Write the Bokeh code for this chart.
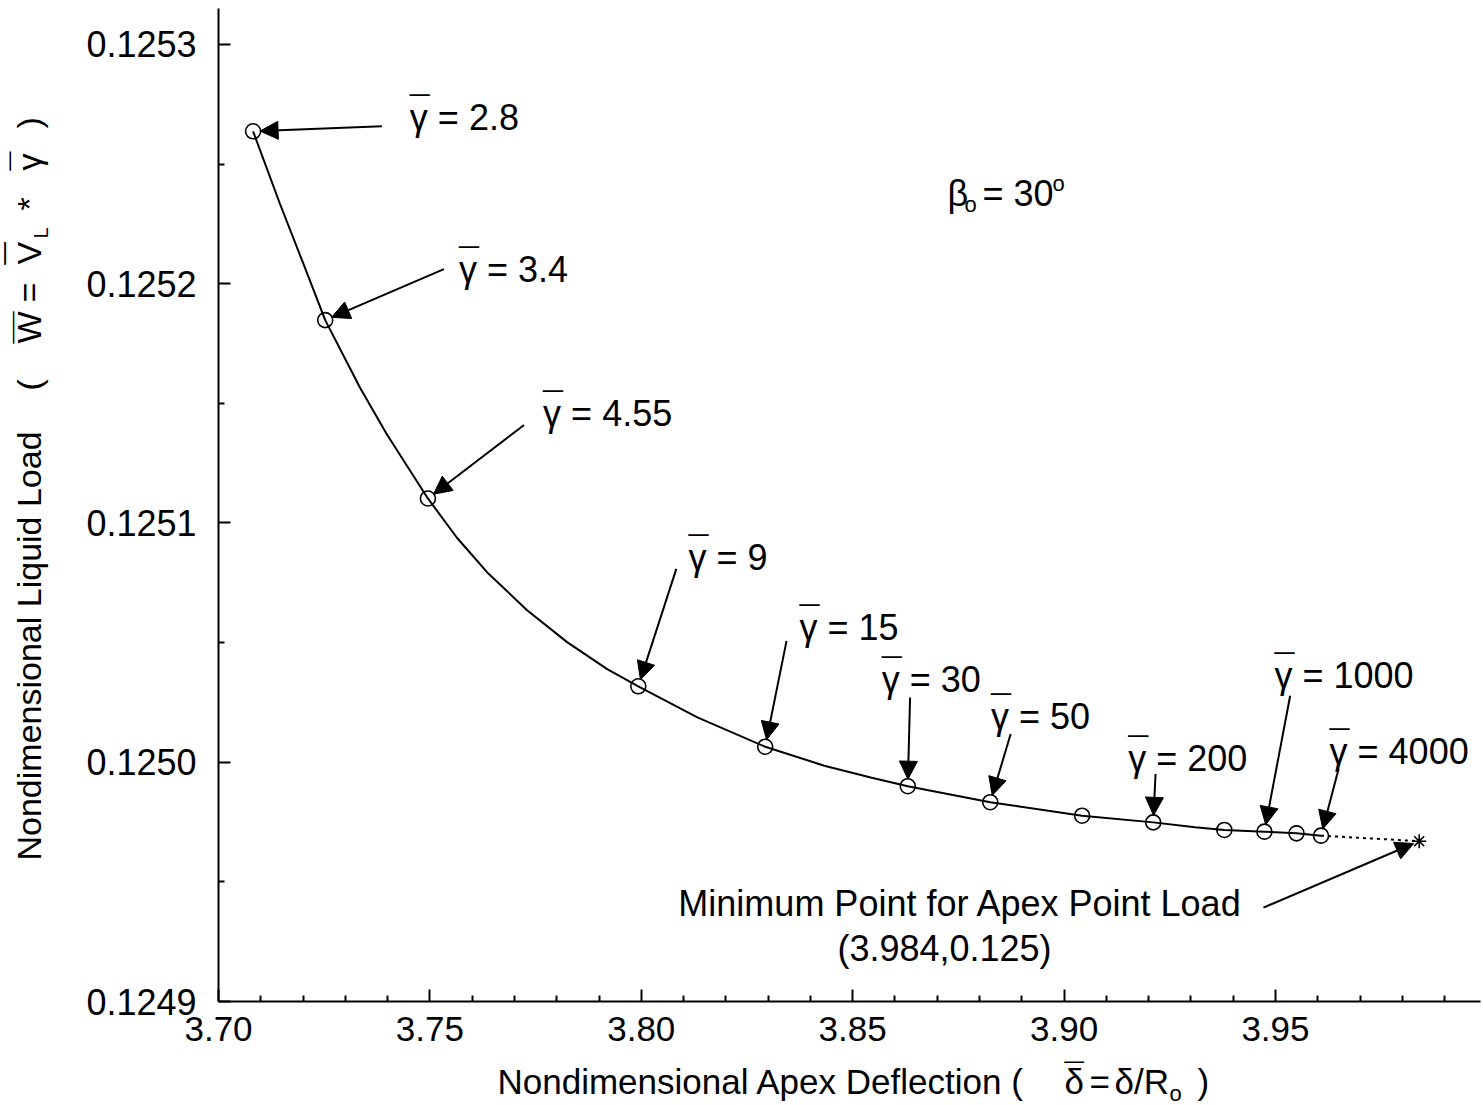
import math
from bokeh.plotting import figure
from bokeh.models import Range1d, FixedTicker, PrintfTickFormatter, Arrow, NormalHead, Label
from bokeh.embed import file_html
from bokeh.resources import INLINE

FONT = "Liberation Sans"
MACRON = "\u00af"

# Computed solutions (apex deflection vs. liquid load) for increasing gamma
delta = [3.70818, 3.72524, 3.74953, 3.79929, 3.82931, 3.86303, 3.88254,
         3.90427, 3.92109, 3.93791, 3.94739, 3.95498, 3.96078]
load = [0.12526367, 0.12518476, 0.12511023, 0.12503173, 0.12500647, 0.12498998,
        0.12498330, 0.12497766, 0.12497486, 0.12497169, 0.12497098, 0.12497027,
        0.12496931]

# Traced solution curve through the computed points
curve_delta = [3.70818, 3.71453, 3.72007, 3.72524, 3.73348, 3.73981, 3.74953,
               3.75640, 3.76351, 3.77299, 3.78246, 3.79194, 3.79929, 3.81327,
               3.82931, 3.84329, 3.85427, 3.86303, 3.88254, 3.90427, 3.92109,
               3.93097, 3.93791, 3.94739, 3.95498, 3.96078]
curve_load = [0.12526367, 0.12523340, 0.12520835, 0.12518476, 0.12515649,
              0.12513704, 0.12511023, 0.12509381, 0.12507943, 0.12506355,
              0.12505018, 0.12503890, 0.12503173, 0.12501871, 0.12500647,
              0.12499854, 0.12499365, 0.12498998, 0.12498330, 0.12497766,
              0.12497486, 0.12497278, 0.12497169, 0.12497098, 0.12497027,
              0.12496931]

# Limit: apex point load minimum
min_delta = 3.984
min_load = 0.124967

# Gamma annotations: value, index of the point it refers to, text anchor, arrow tail
gamma_text = ["2.8", "3.4", "4.55", "9", "15", "30", "50", "200", "1000", "4000"]
gamma_target = [0, 1, 2, 3, 4, 5, 6, 8, 10, 12]
gamma_label_x = [3.74526, 3.75687, 3.77678, 3.81114, 3.83744, 3.85687, 3.88270,
                 3.91517, 3.94976, 3.96280]
gamma_label_y = [0.12526451, 0.12520104, 0.12514092, 0.12508038, 0.12505115,
                 0.12502944, 0.12501399, 0.12499645, 0.12503111, 0.12499937]
gamma_tail_x = [3.73863, 3.75332, 3.77227, 3.80829, 3.83436, 3.86358, 3.88737,
                3.92164, 3.95348, 3.96493]
gamma_tail_y = [0.12526576, 0.12520605, 0.12514092, 0.12508079, 0.12505073,
                0.12502706, 0.12501177, 0.12499507, 0.12502777, 0.12499716]

x_major = [3.70, 3.75, 3.80, 3.85, 3.90, 3.95]
x_minor = [3.71, 3.72, 3.73, 3.74, 3.76, 3.77, 3.78, 3.79, 3.81, 3.82, 3.83,
           3.84, 3.86, 3.87, 3.88, 3.89, 3.91, 3.92, 3.93, 3.94, 3.96, 3.97,
           3.98, 3.99]
y_major = [0.1249, 0.1250, 0.1251, 0.1252, 0.1253]
y_minor = [0.12495, 0.12505, 0.12515, 0.12525]

# axis extents (data) and the box they occupy on the canvas (px)
XA, XB = 3.70, 3.9985
YA, YB = 0.1249, 0.125315
W, H = 1483, 1105
PL, PR, PT, PB = 218, 1480, 8, 1001
kx = (XB - XA) / (PR - PL)
ky = (YB - YA) / (PB - PT)

# the frame spans the whole canvas; the axes sit at fixed positions inside it
p = figure(width=W, height=H, output_backend="svg", toolbar_location=None,
           x_range=Range1d(XA - PL * kx, XA + (W - PL) * kx),
           y_range=Range1d(YA - (H - PB) * ky, YA + PB * ky),
           min_border=0, background_fill_color="white",
           border_fill_color="white")
p.outline_line_color = None
p.grid.visible = False

for ax in (p.xaxis[0], p.yaxis[0]):
    ax.axis_line_width = 2
    ax.axis_line_color = "black"
    ax.major_tick_in = 12
    ax.major_tick_out = 0
    ax.minor_tick_in = 6
    ax.minor_tick_out = 0
    ax.major_tick_line_width = 2
    ax.minor_tick_line_width = 2
    ax.major_tick_line_color = "black"
    ax.minor_tick_line_color = "black"
    ax.major_label_text_font = FONT
    ax.major_label_text_color = "black"

p.xaxis[0].fixed_location = YA
p.xaxis[0].bounds = (XA, XB)
p.xaxis[0].ticker = FixedTicker(ticks=x_major, minor_ticks=x_minor)
p.xaxis[0].formatter = PrintfTickFormatter(format="%.2f")
p.xaxis[0].major_label_text_font_size = "35px"
p.xaxis[0].major_label_standoff = 15

p.yaxis[0].fixed_location = XA
p.yaxis[0].bounds = (YA, YB)
p.yaxis[0].ticker = FixedTicker(ticks=y_major, minor_ticks=y_minor)
p.yaxis[0].formatter = PrintfTickFormatter(format="%.4f")
p.yaxis[0].major_label_text_font_size = "36px"
p.yaxis[0].major_label_standoff = 22

# solution curve, its extension to the point-load minimum, and the points
p.line(curve_delta, curve_load, line_color="black", line_width=2)
p.line([delta[-1], min_delta], [load[-1], min_load], line_color="black",
       line_width=2, line_dash="3 4")
p.scatter(delta, load, marker="circle", size=15, fill_color=None,
          line_color="black", line_width=1.6)
p.scatter([min_delta], [min_load], marker="asterisk", size=14,
          line_color="black", line_width=1.6)


def fx(px):
    """canvas x pixel -> data x (for placing annotation text)"""
    return XA + (px - PL) * kx


def fy(py):
    """canvas y pixel -> data y (for placing annotation text)"""
    return YA + (PB - py) * ky


def text(x, y, s, size=35, angle=0.0, align="left", lift=0):
    # alphabetic baseline renders a little low; lift it back onto (x, y)
    fix = round(0.34 * size) + lift
    if angle:
        xo, yo = -fix, 0
    else:
        xo, yo = 0, fix
    p.add_layout(Label(x=x, y=y, text=s, text_font=FONT,
                       text_font_size="%dpx" % size, text_color="black",
                       text_align=align, text_baseline="alphabetic",
                       angle=angle, x_offset=xo, y_offset=yo))


def arrow_to(tx, ty, ex, ey, gap):
    dxp = (tx - ex) / kx
    dyp = (ty - ey) / ky
    d = math.hypot(dxp, dyp)
    end_x = ex + dxp / d * gap * kx
    end_y = ey + dyp / d * gap * ky
    p.add_layout(Arrow(x_start=tx, y_start=ty, x_end=end_x, y_end=end_y,
                       line_color="black", line_width=2,
                       end=NormalHead(size=18, fill_color="black",
                                      line_color="black", line_width=1)))


for txt, idx, lx, ly, ax_, ay_ in zip(gamma_text, gamma_target, gamma_label_x,
                                      gamma_label_y, gamma_tail_x, gamma_tail_y):
    arrow_to(ax_, ay_, delta[idx], load[idx], 7)
    text(lx, ly, "\u03b3 = " + txt, size=36)
    text(lx, ly, MACRON, size=36, lift=8)

# point-load minimum annotation
arrow_to(3.94716, 0.12493925, min_delta, min_load, 6)
text(fx(960), fy(915), "Minimum Point for Apex Point Load", size=36, align="center")
text(fx(944), fy(960), "(%.3f,%.3f)" % (min_delta, min_load), size=36, align="center")

# cone angle
text(fx(947), fy(205), "\u03b2", size=36)
text(fx(964), fy(211), "o", size=22)
text(fx(982), fy(205), "= 30", size=36)
text(fx(1052), fy(190), "o", size=22)

# x axis title
XT = 1093
text(fx(497), fy(XT), "Nondimensional Apex Deflection (", size=35)
text(fx(1064), fy(XT), "\u03b4", size=35)
text(fx(1064), fy(XT), MACRON, size=35, lift=6)
text(fx(1089), fy(XT), "=", size=35)
text(fx(1114), fy(XT), "\u03b4/R", size=35)
text(fx(1169), fy(XT + 7), "o", size=22)
text(fx(1197), fy(XT), ")", size=35)

# y axis title (rotated, reading upwards)
YT = 40
UP = math.pi / 2
text(fx(YT), fy(860), "Nondimensional Liquid Load", size=34, angle=UP)
text(fx(YT), fy(390), "(", size=34, angle=UP)
text(fx(YT), fy(343), "W", size=34, angle=UP)
text(fx(YT - 6), fy(343), MACRON + MACRON, size=29, angle=UP)
text(fx(YT), fy(302), "=", size=34, angle=UP)
text(fx(YT), fy(264), "V", size=34, angle=UP)
text(fx(YT - 6), fy(264), MACRON, size=40, angle=UP)
text(fx(YT + 7), fy(238), "L", size=20, angle=UP)
text(fx(YT), fy(210), "*", size=34, angle=UP)
text(fx(YT), fy(170), "\u03b3", size=34, angle=UP)
text(fx(YT - 6), fy(170), MACRON, size=34, angle=UP)
text(fx(YT), fy(128), ")", size=34, angle=UP)

open("out.html", "w").write(file_html(p, INLINE))
